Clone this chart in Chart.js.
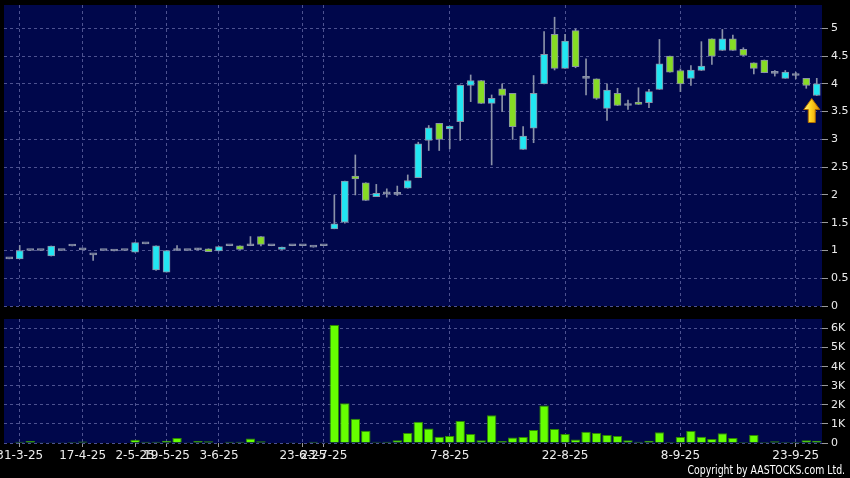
<!DOCTYPE html>
<html>
<head>
<meta charset="utf-8">
<script src="https://cdn.jsdelivr.net/npm/chart.js@4.4.1/dist/chart.umd.min.js"></script>
<style>
  html, body { margin: 0; padding: 0; background: #000; }
  #wrap { position: relative; width: 850px; height: 478px; background: #000; overflow: hidden; }
  #priceBox { position: absolute; left: 0; top: 0; width: 850px; height: 312px; }
  #volBox { position: absolute; left: 0; top: 310px; width: 850px; height: 168px; }
  #copy { position: absolute; right: 5px; top: 463px; font: 12px "DejaVu Sans"; color: #fff;
          transform: scaleX(0.78); transform-origin: right top; white-space: nowrap; }
</style>
</head>
<body>
<div id="wrap">
  <div id="priceBox"><canvas id="price" width="850" height="312"></canvas></div>
  <div id="volBox"><canvas id="vol" width="850" height="168"></canvas></div>
  <div id="copy">Copyright by AASTOCKS.com Ltd.</div>
</div>
<script>
'use strict';

var opens = [0.85, 0.85, 1.0, 1.0, 0.90, 1.0, 1.08, 1.01, 0.92, 1.0,
  0.99, 1.0, 0.97, 1.12, 0.65, 0.61, 1.0, 1.0, 1.01, 1.03,
  0.99, 1.085, 1.085, 1.085, 1.25, 1.085, 1.02, 1.085, 1.085, 1.06,
  1.085, 1.39, 1.51, 2.34, 2.22, 1.97, 2.02, 2.01, 2.12, 2.31,
  2.98, 3.29, 3.19, 3.32, 3.97, 4.06, 3.65, 3.91, 3.83, 2.82,
  3.20, 4.00, 4.89, 4.28, 4.96, 4.10, 4.09, 3.56, 3.83, 3.61,
  3.67, 3.66, 3.90, 4.50, 4.24, 4.10, 4.24, 4.81, 4.60, 4.81,
  4.62, 4.38, 4.43, 4.19, 4.10, 4.15, 4.10, 3.79];

var closes = [0.85, 1.0, 1.0, 1.0, 1.08, 1.0, 1.08, 1.01, 0.92, 1.0,
  0.99, 1.0, 1.14, 1.12, 1.085, 1.0, 1.0, 1.0, 1.01, 0.98,
  1.07, 1.085, 1.02, 1.085, 1.11, 1.085, 1.06, 1.085, 1.085, 1.06,
  1.085, 1.48, 2.25, 2.29, 1.90, 2.03, 2.02, 2.01, 2.26, 2.92,
  3.21, 3.00, 3.24, 3.98, 4.06, 3.65, 3.74, 3.79, 3.23, 3.06,
  3.83, 4.53, 4.28, 4.77, 4.31, 4.10, 3.74, 3.89, 3.61, 3.61,
  3.63, 3.86, 4.36, 4.21, 4.00, 4.25, 4.32, 4.50, 4.81, 4.60,
  4.51, 4.28, 4.20, 4.19, 4.21, 4.15, 3.97, 4.00];

var highs = [0.85, 1.09, 1.0, 1.0, 1.08, 1.0, 1.08, 1.01, 0.92, 1.0,
  0.99, 1.0, 1.14, 1.12, 1.085, 1.0, 1.09, 1.0, 1.04, 1.03,
  1.07, 1.085, 1.085, 1.25, 1.25, 1.085, 1.06, 1.085, 1.085, 1.06,
  1.085, 2.00, 2.25, 2.72, 2.22, 2.19, 2.11, 2.16, 2.36, 2.95,
  3.25, 3.29, 3.24, 3.98, 4.16, 4.06, 3.80, 4.00, 3.83, 3.23,
  4.15, 4.94, 5.20, 4.89, 4.99, 4.45, 4.09, 4.00, 3.92, 3.71,
  3.93, 3.90, 4.80, 4.50, 4.27, 4.33, 4.76, 4.81, 4.98, 4.88,
  4.65, 4.38, 4.43, 4.24, 4.24, 4.21, 4.10, 4.10];

var lows = [0.85, 0.85, 1.0, 1.0, 0.90, 1.0, 1.08, 1.01, 0.82, 1.0,
  0.99, 1.0, 0.97, 1.12, 0.64, 0.61, 1.0, 1.0, 1.01, 0.98,
  0.99, 1.085, 1.02, 1.085, 1.08, 1.085, 1.02, 1.085, 1.085, 1.06,
  1.085, 1.39, 1.49, 2.00, 1.90, 1.97, 1.96, 1.99, 2.12, 2.31,
  2.80, 2.80, 2.83, 2.98, 3.68, 3.65, 2.54, 3.50, 3.00, 2.82,
  2.94, 4.00, 4.25, 4.28, 4.29, 3.80, 3.72, 3.34, 3.61, 3.54,
  3.63, 3.57, 3.90, 4.21, 3.86, 3.97, 4.24, 4.35, 4.60, 4.60,
  4.51, 4.18, 4.20, 4.14, 4.10, 4.09, 3.92, 3.79];

var volumes = [20, 70, 100, 10, 10, 10, 50, 80, 20, 20,
  20, 20, 170, 70, 70, 120, 260, 10, 100, 90,
  20, 70, 70, 230, 90, 30, 20, 10, 20, 70,
  10, 6190, 2090, 1270, 640, 60, 70, 150, 520, 1120,
  760, 330, 370, 1150, 470, 140, 1450, 100, 290, 320,
  680, 1970, 730, 470, 190, 590, 520, 420, 370, 140,
  70, 120, 560, 50, 310, 630, 330, 210, 510, 260,
  50, 420, 50, 90, 50, 50, 140, 120];

var tickIdx = [1, 7, 12, 15, 20, 28, 30, 42, 53, 64, 75];
var tickText = ['31-3-25', '17-4-25', '2-5-25', '19-5-25', '3-6-25', '23-6-25',
  '23-7-25', '7-8-25', '22-8-25', '8-9-25', '23-9-25'];

var priceTicks = [0, 0.5, 1, 1.5, 2, 2.5, 3, 3.5, 4, 4.5, 5];
var volTicks = [0, 1000, 2000, 3000, 4000, 5000, 6000];

var UP = '#22e6f2';
var DOWN = '#86dc24';
var EDGE = '#8a92a8';
var gridColor = '#4d5290';
var textColor = '#ececec';

var labels = [];
for (var i = 0; i < opens.length; i++) {
  labels.push('');
}
for (var j = 0; j < tickIdx.length; j++) {
  labels[tickIdx[j]] = tickText[j];
}

var bodies = [];
var wicks = [];
var bodyColors = [];
for (var k = 0; k < opens.length; k++) {
  bodies.push([opens[k], closes[k]]);
  wicks.push([lows[k], highs[k]]);
  if (closes[k] > opens[k]) bodyColors.push(UP);
  else if (closes[k] < opens[k]) bodyColors.push(DOWN);
  else bodyColors.push(EDGE);
}

function xGrid(c) {
  return labels[c.index] ? gridColor : 'rgba(0,0,0,0)';
}
function xTick(c) {
  return labels[c.index] ? '#9a9a9a' : 'rgba(0,0,0,0)';
}

function useTicks(list) {
  return function (axis) {
    axis.ticks = list.map(function (v) { return { value: v }; });
  };
}

function fitRight(axis) {
  axis.width = 28;
  axis.paddingTop = 0;
  axis.paddingBottom = 0;
}

var plotBg = {
  id: 'plotBg',
  beforeDraw: function (chart) {
    var c = chart.ctx, a = chart.chartArea;
    c.save();
    c.fillStyle = '#000';
    c.fillRect(0, 0, chart.width, chart.height);
    c.fillStyle = '#00074b';
    c.fillRect(a.left, a.top, a.right - a.left, a.bottom - a.top);
    c.restore();
  }
};

// yellow marker under the latest candle
var lastArrow = {
  id: 'lastArrow',
  afterDatasetsDraw: function (chart) {
    var n = closes.length - 1;
    var x = chart.scales.x.getPixelForValue(n) - 5;
    var y = chart.scales.y.getPixelForValue(lows[n]) + 3;
    var c = chart.ctx;
    c.save();
    var g = c.createLinearGradient(x - 8, 0, x + 8, 0);
    g.addColorStop(0, '#fff48a');
    g.addColorStop(0.45, '#ffd21e');
    g.addColorStop(1, '#e08c00');
    c.beginPath();
    c.moveTo(x, y);
    c.lineTo(x + 8, y + 11);
    c.lineTo(x + 3.5, y + 11);
    c.lineTo(x + 3.5, y + 24);
    c.lineTo(x - 3.5, y + 24);
    c.lineTo(x - 3.5, y + 11);
    c.lineTo(x - 8, y + 11);
    c.closePath();
    c.fillStyle = g;
    c.fill();
    c.strokeStyle = '#b06c00';
    c.lineWidth = 1;
    c.stroke();
    c.restore();
  }
};

new Chart(document.getElementById('price'), {
  type: 'bar',
  data: {
    labels: labels,
    datasets: [{
      label: 'wick',
      data: wicks,
      backgroundColor: EDGE,
      barThickness: 1,
      grouped: false,
      order: 2
    }, {
      label: 'body',
      data: bodies,
      backgroundColor: bodyColors,
      borderColor: EDGE,
      borderWidth: 1,
      borderSkipped: false,
      barThickness: 7,
      minBarLength: 2,
      grouped: false,
      order: 1
    }]
  },
  options: {
    responsive: false,
    animation: false,
    devicePixelRatio: 1,
    layout: { padding: { left: 4, top: 5, right: 0, bottom: 6 } },
    plugins: { legend: { display: false }, tooltip: { enabled: false } },
    scales: {
      x: {
        offset: true,
        grid: { offset: false, color: xGrid, drawTicks: false },
        border: { display: false, dash: [3, 3] },
        ticks: { display: false },
        afterFit: function (a) { a.height = 0; }
      },
      y: {
        position: 'right',
        min: 0,
        max: 5.42,
        ticks: {
          color: textColor,
          font: { family: 'DejaVu Sans', size: 11 },
          padding: 3,
          callback: function (v) { return String(Math.round(v * 10) / 10); }
        },
        grid: { color: gridColor, tickColor: '#9a9a9a', tickLength: 6 },
        border: { display: false, dash: [3, 3] },
        afterBuildTicks: useTicks(priceTicks),
        afterFit: fitRight
      }
    }
  },
  plugins: [plotBg, lastArrow]
});

new Chart(document.getElementById('vol'), {
  type: 'bar',
  data: {
    labels: labels,
    datasets: [{
      label: 'volume',
      data: volumes,
      backgroundColor: '#66ff00',
      borderColor: '#2e8a00',
      borderWidth: 1,
      barPercentage: 0.9,
      categoryPercentage: 1
    }]
  },
  options: {
    responsive: false,
    animation: false,
    devicePixelRatio: 1,
    layout: { padding: { left: 4, top: 9, right: 0, bottom: 14 } },
    plugins: { legend: { display: false }, tooltip: { enabled: false } },
    scales: {
      x: {
        offset: true,
        grid: { offset: false, color: xGrid, tickColor: xTick, tickLength: 4 },
        border: { display: false, dash: [3, 3] },
        ticks: { autoSkip: false, maxRotation: 0, color: textColor, font: { family: 'DejaVu Sans', size: 12 }, padding: 2 },
        afterFit: function (a) { a.height = 21; }
      },
      y: {
        position: 'right',
        min: 0,
        max: 6500,
        ticks: {
          autoSkip: false,
          color: textColor,
          font: { family: 'DejaVu Sans', size: 11 },
          padding: 3,
          callback: function (v) { return v === 0 ? '0' : (v / 1000) + 'K'; }
        },
        grid: { color: gridColor, tickColor: '#9a9a9a', tickLength: 6 },
        border: { display: false, dash: [3, 3] },
        afterBuildTicks: useTicks(volTicks),
        afterFit: fitRight
      }
    }
  },
  plugins: [plotBg]
});
</script>
</body>
</html>
